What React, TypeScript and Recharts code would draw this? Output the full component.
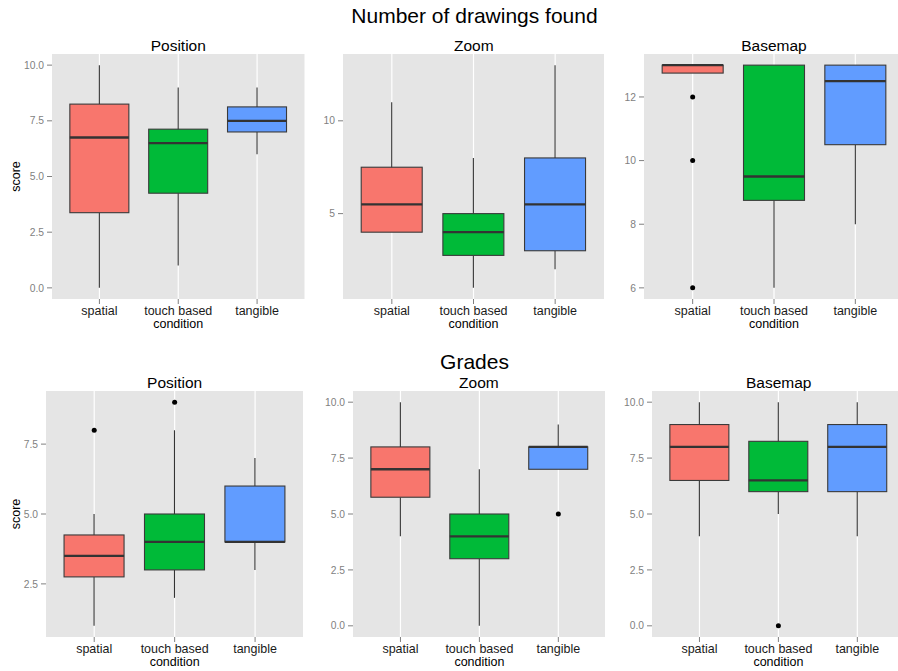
import React from 'react';
import { ComposedChart, Bar, Scatter, XAxis, YAxis, CartesianGrid } from 'recharts';

const categories = ['spatial', 'touch based', 'tangible'];
const boxColors = ['#F8766D', '#00BA38', '#619CFF'];

// five-number summaries per category: [lower whisker, Q1, median, Q3, upper whisker]
const drawingsPosition = [[0, 3.375, 6.75, 8.25, 10], [1, 4.25, 6.5, 7.125, 9], [6, 7, 7.5, 8.125, 9]];
const drawingsPositionOutliers: number[][] = [[], [], []];
const drawingsZoom = [[4, 4, 5.5, 7.5, 11], [1, 2.75, 4, 5, 8], [2, 3, 5.5, 8, 13]];
const drawingsZoomOutliers: number[][] = [[], [], []];
const drawingsBasemap = [[12.75, 12.75, 13, 13, 13], [6, 8.75, 9.5, 13, 13], [8, 10.5, 12.5, 13, 13]];
const drawingsBasemapOutliers: number[][] = [[12, 10, 6], [], []];

const gradesPosition = [[1, 2.75, 3.5, 4.25, 5], [2, 3, 4, 5, 8], [3, 4, 4, 6, 7]];
const gradesPositionOutliers: number[][] = [[8], [9], []];
const gradesZoom = [[4, 5.75, 7, 8, 10], [0, 3, 4, 5, 7], [7, 7, 8, 8, 9]];
const gradesZoomOutliers: number[][] = [[], [], [5]];
const gradesBasemap = [[4, 6.5, 8, 9, 10], [5, 6, 6.5, 8.25, 10], [4, 6, 8, 9, 10]];
const gradesBasemapOutliers: number[][] = [[], [0], []];

// y-axis ticks (major) and minor grid breaks
const ticksZeroTen = [0, 2.5, 5, 7.5, 10];
const minorZeroTen = [1.25, 3.75, 6.25, 8.75];
const ticksDrawZoom = [5, 10];
const minorDrawZoom = [2.5, 7.5, 12.5];
const ticksDrawBasemap = [6, 8, 10, 12];
const minorDrawBasemap = [7, 9, 11, 13];
const ticksGradePosition = [2.5, 5, 7.5];
const minorGradePosition = [1.25, 3.75, 6.25, 8.75];

const FONT = "'Liberation Sans', Arial, Helvetica, sans-serif";
const YW = 50;
const XH = 34;

function buildRows(stats: number[][], outliers: number[][]) {
  return categories.map((cat, i) => {
    const [lo, q1, med, q3, hi] = stats[i];
    const row: any = { cat, base: lo, wLow: q1 - lo, box: q3 - q1, wHigh: hi - q3, q1, median: med, q3 };
    outliers[i].forEach((v, k) => {
      row[`o${k}`] = v;
    });
    return row;
  });
}

function WhiskerShape(props: any) {
  const { x, y, width, height } = props;
  if (!height || !isFinite(y) || !isFinite(x)) return <g />;
  const cx = x + width / 2;
  return <line x1={cx} x2={cx} y1={y} y2={y + height} stroke="#333333" strokeWidth={1.1} />;
}

function BoxShape(props: any) {
  const { x, y, width, height, payload, index } = props;
  if (!isFinite(y) || !isFinite(x)) return <g />;
  const span = payload.q3 - payload.q1;
  const my = y + (height * (payload.q3 - payload.median)) / span;
  return (
    <g>
      <rect x={x} y={y} width={width} height={height} fill={boxColors[index]} stroke="#3a3a3a" strokeWidth={1.1} />
      <line x1={x} x2={x + width} y1={my} y2={my} stroke="#333333" strokeWidth={2.3} />
    </g>
  );
}

const makeOutlierShape = (key: string) => (props: any) => {
  const { cx, cy, payload } = props;
  if (!payload || payload[key] == null || !isFinite(cx) || !isFinite(cy)) return <g />;
  return <circle cx={cx} cy={cy} r={2.5} fill="#000" />;
};

const outlierKeys = ['o0', 'o1', 'o2'];

type PanelProps = {
  stats: number[][];
  outliers: number[][];
  domain: [number, number];
  major: number[];
  minor: number[];
  decimals: number;
  x0: number;
  x1: number;
  y0: number;
  y1: number;
};

function Panel({ stats, outliers, domain, major, minor, decimals, x0, x1, y0, y1 }: PanelProps) {
  const rows = buildRows(stats, outliers);
  const pw = x1 - x0;
  const ph = y1 - y0;
  const all = [...major, ...minor];
  return (
    <div style={{ position: 'absolute', left: x0 - YW, top: y0 }}>
      <ComposedChart
        width={YW + pw}
        height={ph + XH}
        data={rows}
        margin={{ top: 0, right: 0, bottom: 0, left: 0 }}
        barCategoryGap="12.5%"
      >
        <CartesianGrid
          fill="#E5E5E5"
          stroke="#FFFFFF"
          strokeWidth={1.2}
          syncWithTicks
          horizontalCoordinatesGenerator={({ yAxis }: any) => {
            const s = yAxis?.scale;
            if (typeof s !== 'function') return [];
            return all.map((v) => s(v));
          }}
          horizontal={(p: any) => (
            <line
              key={p.key}
              x1={p.x1}
              y1={p.y1}
              x2={p.x2}
              y2={p.y2}
              stroke={p.index < major.length ? '#FFFFFF' : '#F2F2F2'}
              strokeWidth={p.index < major.length ? 1.2 : 0.6}
            />
          )}
        />
        <XAxis
          dataKey="cat"
          type="category"
          allowDuplicatedCategory={false}
          padding={{ left: 8, right: 8 }}
          axisLine={false}
          stroke="#7f7f7f"
          tickLine={{ stroke: '#7f7f7f' }}
          tickSize={5}
          tickMargin={2}
          interval={0}
          height={XH}
          tick={{ fill: '#1a1a1a', fontSize: 12.5 }}
          label={{ value: 'condition', position: 'insideBottom', offset: 5, fill: '#000', fontSize: 12.5 }}
        />
        <YAxis
          type="number"
          domain={domain}
          allowDataOverflow
          ticks={major}
          interval={0}
          width={YW}
          axisLine={false}
          stroke="#7f7f7f"
          tickLine={{ stroke: '#7f7f7f' }}
          tickSize={5}
          tickMargin={3}
          tick={{ fill: '#7f7f7f', fontSize: 10.3 }}
          tickFormatter={(v: number) => v.toFixed(decimals)}
        />
        <Bar dataKey="base" stackId="b" fill="none" stroke="none" isAnimationActive={false} />
        <Bar dataKey="wLow" stackId="b" shape={WhiskerShape} isAnimationActive={false} />
        <Bar dataKey="box" stackId="b" shape={BoxShape} isAnimationActive={false} />
        <Bar dataKey="wHigh" stackId="b" shape={WhiskerShape} isAnimationActive={false} />
        {outlierKeys.map((k) => (
          <Scatter key={k} dataKey={k} shape={makeOutlierShape(k)} isAnimationActive={false} />
        ))}
      </ComposedChart>
    </div>
  );
}

const TOP = { y0: 54, y1: 299 };
const BOT = { y0: 391, y1: 637 };

const panelDefs = [
  { title: 'Position', stats: drawingsPosition, outliers: drawingsPositionOutliers, domain: [-0.5, 10.5] as [number, number], major: ticksZeroTen, minor: minorZeroTen, decimals: 1, x0: 52, x1: 304.5, ...TOP },
  { title: 'Zoom', stats: drawingsZoom, outliers: drawingsZoomOutliers, domain: [0.4, 13.6] as [number, number], major: ticksDrawZoom, minor: minorDrawZoom, decimals: 0, x0: 343.3, x1: 604.3, ...TOP },
  { title: 'Basemap', stats: drawingsBasemap, outliers: drawingsBasemapOutliers, domain: [5.65, 13.35] as [number, number], major: ticksDrawBasemap, minor: minorDrawBasemap, decimals: 0, x0: 644, x1: 904, ...TOP },
  { title: 'Position', stats: gradesPosition, outliers: gradesPositionOutliers, domain: [0.6, 9.4] as [number, number], major: ticksGradePosition, minor: minorGradePosition, decimals: 1, x0: 46, x1: 303.3, ...BOT },
  { title: 'Zoom', stats: gradesZoom, outliers: gradesZoomOutliers, domain: [-0.5, 10.5] as [number, number], major: ticksZeroTen, minor: minorZeroTen, decimals: 1, x0: 352.5, x1: 605.3, ...BOT },
  { title: 'Basemap', stats: gradesBasemap, outliers: gradesBasemapOutliers, domain: [-0.5, 10.5] as [number, number], major: ticksZeroTen, minor: minorZeroTen, decimals: 1, x0: 652.3, x1: 905.1, ...BOT },
];

export default function App() {
  return (
    <div
      style={{
        position: 'absolute',
        left: 0,
        top: 0,
        width: 898,
        height: 671,
        overflow: 'hidden',
        background: '#fff',
        fontFamily: FONT,
      }}
    >
      {panelDefs.map((p, i) => (
        <Panel key={i} {...p} />
      ))}
      <svg width={898} height={671} style={{ position: 'absolute', left: 0, top: 0, pointerEvents: 'none' }}>
        <text x={474.5} y={23} textAnchor="middle" fontSize={21} fill="#000" fontFamily={FONT}>
          Number of drawings found
        </text>
        <text x={474.5} y={369} textAnchor="middle" fontSize={21} fill="#000" fontFamily={FONT}>
          Grades
        </text>
        {panelDefs.map((p, i) => (
          <text
            key={i}
            x={(p.x0 + p.x1) / 2}
            y={p.y0 - 3.5}
            textAnchor="middle"
            fontSize={15.5}
            fill="#000"
            fontFamily={FONT}
          >
            {p.title}
          </text>
        ))}
        <text transform="translate(20,176.5) rotate(-90)" textAnchor="middle" fontSize={12.5} fill="#000" fontFamily={FONT}>
          score
        </text>
        <text transform="translate(20,514) rotate(-90)" textAnchor="middle" fontSize={12.5} fill="#000" fontFamily={FONT}>
          score
        </text>
      </svg>
    </div>
  );
}
